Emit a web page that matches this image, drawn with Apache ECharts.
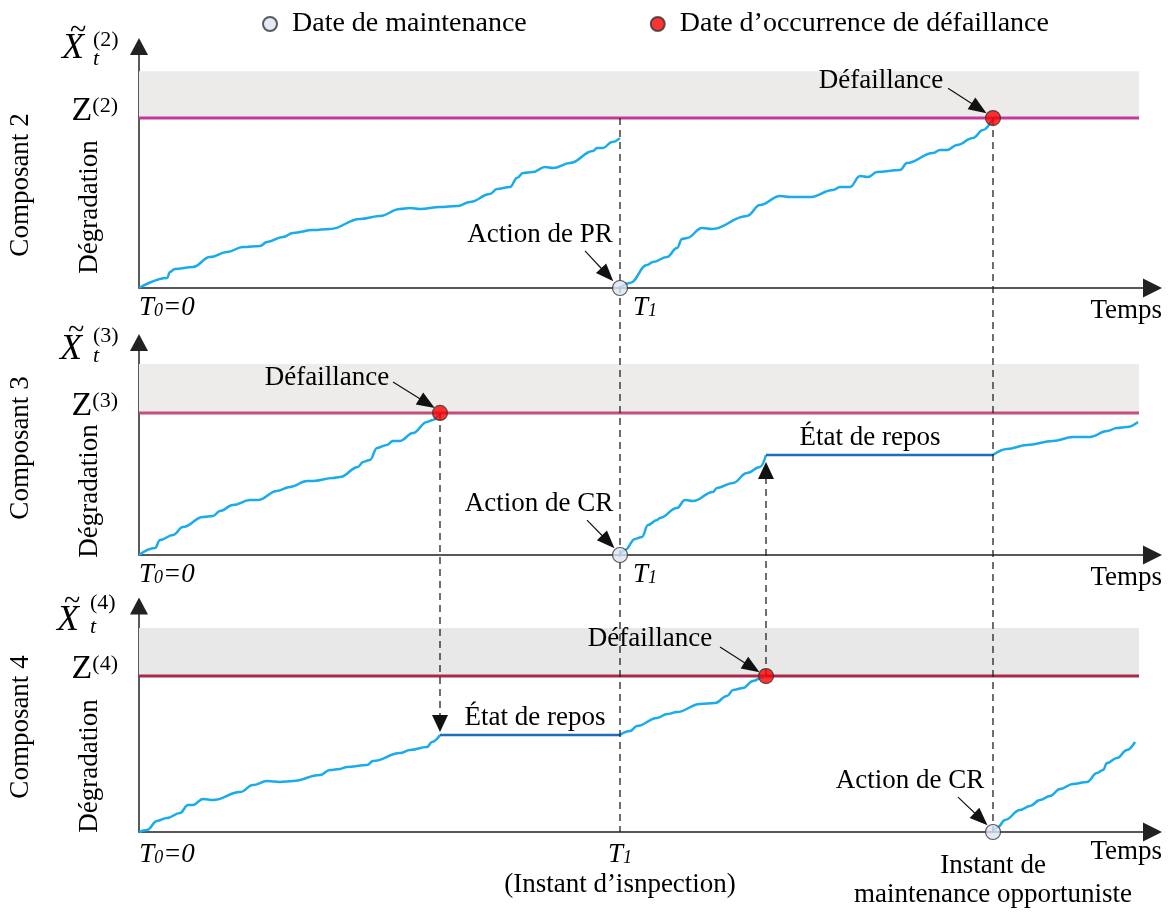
<!DOCTYPE html>
<html><head><meta charset="utf-8">
<script src="https://cdn.jsdelivr.net/npm/echarts@6/dist/echarts.min.js"></script>
<style>html,body{margin:0;padding:0;background:#fff}#c{width:1168px;height:923px}</style>
</head><body><div id="c"></div>
<script>
// ---------------- DATA ----------------
const T1 = 48.1;                 // inspection instant
const failTimeComp2 = 85.4;      // failure of component 2 = opportunistic maintenance
const failTimeComp3 = 30.1;
const failTimeComp4 = 62.7;
const thresholds = [10, 10, 10];           // Z(2), Z(3), Z(4)
const bandTops = [12.76, 13.45, 13.08];    // top of shaded failure zone
const yMaxes = [14.21, 14.96, 14.49];
const timeMax = 101.35;
const bandEnd = 100;
const restLevelComp3 = 7.04;
const restLevelComp4 = 6.22;
const componentNames = ['Composant 2', 'Composant 3', 'Composant 4'];
const componentIndex = ['2', '3', '4'];

const comp2Before = [[0,0],[2.8,0.59],[3.1,0.94],[3.6,1.12],[5.4,1.24],[7.1,1.82],[8.8,2.12],[10.4,2.41],[12.1,2.47],[12.8,2.71],[14.4,3.0],[15.4,3.24],[17.4,3.41],[19.1,3.47],[22.1,4.06],[24.1,4.24],[26.1,4.65],[27.1,4.71],[28.1,4.65],[30.1,4.76],[31.8,4.82],[33.1,5.06],[35.1,5.53],[35.8,5.82],[37.1,5.94],[37.8,6.47],[38.4,6.76],[39.4,6.82],[40.6,7.12],[41.4,7.06],[43.1,7.35],[45.4,8.06],[45.8,8.24],[46.4,8.24],[47.3,8.59],[48.1,8.82]];
const comp2After = [[48.1,0],[49.1,0.29],[50.8,1.35],[51.4,1.53],[52.8,1.82],[53.8,2.35],[54.3,2.88],[54.8,2.94],[56.3,3.53],[57.3,3.47],[60.8,4.24],[62.1,4.88],[64.1,5.41],[65.1,5.35],[67.1,5.35],[69.4,5.76],[70.1,5.94],[71.1,5.94],[72.1,6.59],[72.9,6.53],[73.8,6.82],[76.1,6.94],[76.8,7.35],[79.4,7.94],[80.1,8.12],[80.8,8.12],[81.8,8.41],[83.4,8.82],[84.4,9.29],[85.4,10]];

const comp3Before = [[0,0],[1.6,0.49],[2.1,1.06],[3.4,1.41],[4.4,1.97],[6.4,2.68],[7.4,2.75],[8.1,3.10],[9.4,3.52],[11.1,3.87],[11.9,3.87],[13.8,4.51],[15.1,4.79],[16.8,5.21],[17.4,5.21],[19.4,5.42],[20.1,5.49],[21.9,6.20],[22.4,6.55],[23.1,6.69],[23.8,7.54],[24.8,7.75],[25.4,8.03],[26.1,8.03],[27.4,8.59],[28.8,9.37],[29.4,9.51],[30.1,10]];
const comp3After = [[48.1,0],[48.6,0.35],[49.6,1.13],[50.3,1.27],[50.9,2.11],[51.8,2.46],[52.1,2.61],[53.8,3.31],[54.6,3.87],[55.4,3.80],[57.4,4.44],[57.8,4.72],[59.4,5.07],[60.8,5.77],[62.1,6.20],[62.7,7.04]];
const comp3Rest = [[62.7,7.04],[85.4,7.04]];
const comp3Resume = [[85.4,7.04],[86.8,7.46],[88.8,7.75],[91.4,8.03],[93.4,8.31],[95.1,8.31],[96.8,8.73],[97.8,8.94],[98.8,9.01],[99.9,9.37]];

const comp4Before = [[0,0],[0.8,0.13],[1.8,0.71],[2.8,0.90],[4.1,1.22],[4.9,1.73],[5.4,1.73],[6.4,2.12],[7.4,2.05],[10.1,2.56],[11.4,3.01],[12.8,3.27],[14.1,3.21],[15.4,3.27],[18.1,3.65],[19.1,3.97],[20.1,4.04],[20.8,4.17],[22.8,4.29],[23.4,4.55],[26.1,5.06],[27.1,5.26],[28.8,5.45],[29.3,5.77],[30.1,6.22]];
const comp4Rest = [[30.1,6.22],[48.1,6.22]];
const comp4After = [[48.1,6.22],[49.1,6.47],[49.8,6.79],[51.8,7.31],[52.8,7.56],[53.8,7.69],[56.1,8.21],[57.6,8.27],[58.8,8.72],[59.4,9.10],[60.4,9.23],[61.4,9.68],[62.4,9.94],[62.7,10]];
const comp4Resume = [[85.4,0],[85.9,0.32],[86.6,0.77],[88.1,1.41],[89.1,1.67],[90.1,2.05],[91.1,2.31],[92.1,2.76],[93.4,3.08],[94.8,3.21],[95.8,3.78],[96.4,3.97],[96.8,4.42],[97.8,4.74],[98.8,5.26],[99.6,5.77]];

const maintenancePoints = [[[T1,0]], [[T1,0]], [[failTimeComp2,0]]];
const failurePoints = [[[failTimeComp2,10]], [[failTimeComp3,10]], [[failTimeComp4,10]]];

// ---------------- STYLE / LAYOUT ----------------
const FONT = '"Liberation Serif", "Times New Roman", serif';
const BLUE = '#1aabeb', DARK = '#1c6dbd';
const zColors = ['#c13a9a', '#c2507c', '#a8294b'];
const bandColors = ['#edebea', '#edeceb', '#e8e8e8'];
const grids = [
  {left:139, right:15.5, top:46.5, height:241.5, outerBoundsMode:'none', containLabel:false},
  {left:139, right:15.5, top:342.5, height:212.5, outerBoundsMode:'none', containLabel:false},
  {left:139, right:15.5, top:606, height:226, outerBoundsMode:'none', containLabel:false}
];

// annotations (text position, arrow start/end) in data units of each panel
const annotations = [
  [ {name:'Défaillance', value:[74.2,12.18]}, {name:'Action de PR', value:[40.1,3.12]} ],
  [ {name:'Défaillance', value:[18.8,12.46]}, {name:'Action de CR', value:[40.0,3.59]}, {name:'État de repos', value:[73.1,8.24]} ],
  [ {name:'État de repos', value:[39.6,7.31]}, {name:'Défaillance', value:[51.1,12.37]}, {name:'Action de CR', value:[77.1,3.27]} ]
];
const annotationArrows = [
  [ [[80.9,11.76],[84.0,10.57]], [[44.6,2.18],[46.82,0.78]] ],
  [ [[25.4,12.18],[28.81,10.68]], [[44.8,2.46],[46.92,0.93]] ],
  [ [[58.1,11.86],[61.3,10.55]], [[81.9,2.24],[84.2,0.83]] ]
];

function curve(g, data, color) {
  return {type:'line', xAxisIndex:g, yAxisIndex:g, data, symbol:'none', showSymbol:false,
    smooth:0.4, smoothMonotone:'x', clip:false, silent:true, z:3,
    lineStyle:{color, width:2.5}};
}
function threshold(g) {
  return {type:'line', xAxisIndex:g, yAxisIndex:g, data:[[0,thresholds[g]],[bandEnd,thresholds[g]]],
    symbol:'none', clip:false, silent:true, z:2, lineStyle:{color:zColors[g], width:3},
    markArea:{silent:true, itemStyle:{color:bandColors[g]},
      data:[[{coord:[0,thresholds[g]]},{coord:[bandEnd,bandTops[g]]}]]}};
}
function markers(g) {
  return [
    {type:'scatter', name:'Date de maintenance', xAxisIndex:g, yAxisIndex:g, data:maintenancePoints[g],
      symbol:'circle', symbolSize:15, clip:false, z:10, silent:true,
      itemStyle:{color:'#dde5f1', borderColor:'#333', borderWidth:1.2}},
    {type:'scatter', name:'Date d’occurrence de défaillance', xAxisIndex:g, yAxisIndex:g, data:failurePoints[g],
      symbol:'circle', symbolSize:15, clip:false, z:10, silent:true,
      itemStyle:{color:'#ff0000', borderColor:'#333', borderWidth:1.2}}
  ];
}
function annot(g) {
  return {type:'scatter', xAxisIndex:g, yAxisIndex:g, data:annotations[g], symbol:'circle', symbolSize:0,
    clip:false, silent:true, z:12, itemStyle:{color:'#000', opacity:0},
    label:{show:true, position:'inside', formatter:'{b}', fontFamily:FONT, fontSize:27, color:'#000', opacity:1,
      textBorderWidth:0, align:'center', verticalAlign:'middle'},
    markLine:{silent:true, symbol:['none','triangle'], symbolSize:[14,18], label:{show:false},
      lineStyle:{color:'#111', width:1.2, type:'solid'},
      data: annotationArrows[g].map(a => [{coord:a[0]},{coord:a[1]}])}};
}

const richBase = {
  t:  {fontFamily:FONT, fontStyle:'italic', fontSize:27, lineHeight:22, color:'#000'},
  t1: {fontFamily:FONT, fontStyle:'italic', fontSize:27, lineHeight:22, color:'#000', padding:[0,0,0,13]},
  t0: {fontFamily:FONT, fontStyle:'italic', fontSize:27, lineHeight:22, color:'#000', padding:[0,0,0,56]},
  sub:{fontFamily:FONT, fontStyle:'italic', fontSize:18, lineHeight:14, padding:[6,0,0,0], color:'#000'},
  n:  {fontFamily:FONT, fontSize:27, lineHeight:38, color:'#000'},
  m1: {fontFamily:FONT, fontSize:27, lineHeight:34, padding:[9,0,0,0], color:'#000'},
  m2: {fontFamily:FONT, fontSize:27, lineHeight:34, color:'#000'}
};
const nameTopPad = [9.5, 9.5, 6];

function xAxis(g) {
  const last = g === 2;
  return {type:'value', gridIndex:g, min:0, max:timeMax,
    axisLine:{show:true, onZero:false, symbol:['none','triangle'], symbolSize:[19,19], lineStyle:{color:'#222', width:1.5}},
    axisTick:{show:false}, splitLine:{show:false},
    axisLabel:{show:true, customValues: last ? [0, T1, failTimeComp2] : [0, T1],
      margin: last ? 12 : 9, align: last ? 'center' : 'left', rich: richBase,
      formatter: function (v) {
        if (v === 0) return last ? '{t0|T}{sub|0}{t|=0}' : '{t|T}{sub|0}{t|=0}';
        if (v === T1) return last ? '{t|T}{sub|1}\n{n|(Instant d’isnpection)}' : '{t1|T}{sub|1}';
        return '{m1|Instant de}\n{m2|maintenance opportuniste}';
      }},
    name:'Temps', nameLocation:'end', nameGap:9.5, nameMoveOverlap:false,
    nameTextStyle:{fontFamily:FONT, fontSize:27, color:'#000', align:'right', verticalAlign:'top', padding:[nameTopPad[g],0,0,0]}};
}
function yAxis(g) {
  return {type:'value', gridIndex:g, min:0, max:yMaxes[g],
    axisLine:{show:true, onZero:false, symbol:['none','triangle'], symbolSize:[18,17], lineStyle:{color:'#222', width:1.5}},
    axisTick:{show:false}, splitLine:{show:false},
    axisLabel:{show:true, customValues:[thresholds[g]], margin:21,
      formatter: function () { return '{z|Z}{s|(' + componentIndex[g] + ')}'; },
      rich:{z:{fontFamily:FONT, fontSize:34, lineHeight:32, padding:[0,0,14,0], color:'#000'},
            s:{fontFamily:FONT, fontSize:22, lineHeight:22, padding:[0,0,24,0], color:'#000'}}}};
}

const series = [];
[0,1,2].forEach(g => series.push(threshold(g)));
series.push(curve(0, comp2Before, BLUE), curve(0, comp2After, BLUE));
series.push(curve(1, comp3Before, BLUE), curve(1, comp3After, BLUE), curve(1, comp3Rest, DARK), curve(1, comp3Resume, BLUE));
series.push(curve(2, comp4Before, BLUE), curve(2, comp4Rest, DARK), curve(2, comp4After, BLUE), curve(2, comp4Resume, BLUE));
[0,1,2].forEach(g => { series.push(...markers(g)); series.push(annot(g)); });

const option = {
  animation:false, backgroundColor:'#fff',
  grid: grids,
  xAxis: [0,1,2].map(xAxis),
  yAxis: [0,1,2].map(yAxis),
  legend:{left:257, top:5, itemWidth:34, itemHeight:14, itemGap:123, icon:'circle', selectedMode:false,
    textStyle:{fontFamily:FONT, fontSize:28, color:'#000'},
    data:['Date de maintenance','Date d’occurrence de défaillance']},
  series
};

const chart = echarts.init(document.getElementById('c'), null, {renderer:'canvas'});
chart.setOption(option);

// ---------- cross-panel connectors and side labels ----------
const px = (g, p) => chart.convertToPixel({gridIndex:g}, p);
const connectors = [
  {from:[0,[T1, thresholds[0]]], to:[2,[T1,0]], arrow:false},
  {from:[0,[failTimeComp2, thresholds[0]]], to:[2,[failTimeComp2,0]], arrow:false},
  {from:[1,[failTimeComp3, thresholds[1]]], to:[2,[failTimeComp3, restLevelComp4]], arrow:true, gap:3},
  {from:[2,[failTimeComp4, thresholds[2]]], to:[1,[failTimeComp4, restLevelComp3]], arrow:true, gap:7}
];
const els = [];
connectors.forEach(c => {
  const a = px(c.from[0], c.from[1]);
  const b = px(c.to[0], c.to[1]);
  let endY = b[1];
  if (c.arrow) {
    const dir = Math.sign(b[1] - a[1]);
    const tipY = b[1] - dir * c.gap;
    const baseY = tipY - dir * 17;
    endY = baseY;
    els.push({type:'polygon', silent:true, z:6, shape:{points:[[b[0],tipY],[b[0]-8,baseY],[b[0]+8,baseY]]}, style:{fill:'#111'}});
  }
  els.push({type:'line', silent:true, z:5, shape:{x1:a[0], y1:a[1], x2:b[0], y2:endY},
    style:{stroke:'#222', lineWidth:1.3, lineDash:[7,5]}});
});

function txt(x, y, text, font, extra) {
  const e = {type:'text', x, y, silent:true, z:20,
    style:{text, font, fill:'#000', align:'left', verticalAlign:'middle', textAlign:'left', textVerticalAlign:'middle'}};
  if (extra) { Object.assign(e.style, extra.style || {}); if (extra.rotation) e.rotation = extra.rotation; }
  return e;
}
const side = [
  {compY:185, degY:207, xt:[62,49], tilde:[78,31], sup:[93,40], sub:[93,59]},
  {compY:448, degY:491, xt:[60,350], tilde:[76,331], sup:[93,336], sub:[93,356]},
  {compY:727, degY:766, xt:[57,621], tilde:[72,602], sup:[90,603], sub:[90,627]}
];
side.forEach((s, g) => {
  const rot = {rotation:Math.PI/2, style:{align:'center', textAlign:'center'}};
  els.push(txt(21, s.compY, componentNames[g], '27px ' + FONT, rot));
  els.push(txt(90, s.degY, 'Dégradation', '27px ' + FONT, rot));
  els.push(txt(s.xt[0], s.xt[1], 'X', 'italic 36px ' + FONT));
  els.push(txt(s.tilde[0], s.tilde[1], '~', '30px ' + FONT, {style:{align:'center', textAlign:'center'}}));
  els.push(txt(s.sup[0], s.sup[1], '(' + componentIndex[g] + ')', '22px ' + FONT));
  els.push(txt(s.sub[0], s.sub[1], 't', 'italic 22px ' + FONT));
});
chart.setOption({graphic:{elements:els}});
</script>
</body></html>
